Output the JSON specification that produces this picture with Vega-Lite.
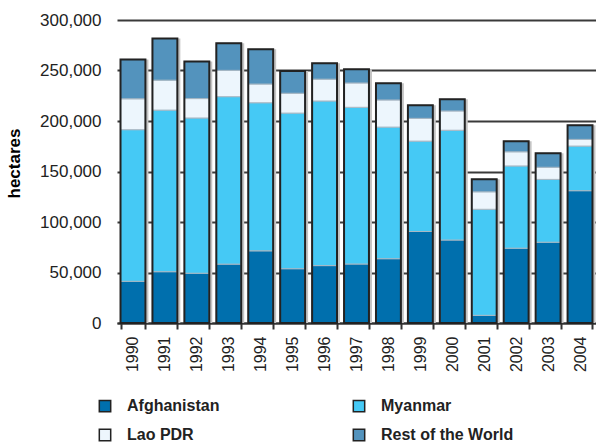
{
  "$schema": "https://vega.github.io/schema/vega-lite/v6.json",
  "autosize": {"type": "none"},
  "padding": {"left": 117, "top": 20, "right": 0, "bottom": 120},
  "width": 479,
  "height": 303,
  "background": "white",
  "data": {
    "values": [
      {"year": "1990", "country": "Afghanistan", "value": 41300},
      {"year": "1990", "country": "Myanmar", "value": 150100},
      {"year": "1990", "country": "Lao PDR", "value": 30580},
      {"year": "1990", "country": "Rest of the World", "value": 39020},
      {"year": "1991", "country": "Afghanistan", "value": 50800},
      {"year": "1991", "country": "Myanmar", "value": 160000},
      {"year": "1991", "country": "Lao PDR", "value": 29625},
      {"year": "1991", "country": "Rest of the World", "value": 41175},
      {"year": "1992", "country": "Afghanistan", "value": 49300},
      {"year": "1992", "country": "Myanmar", "value": 153700},
      {"year": "1992", "country": "Lao PDR", "value": 19190},
      {"year": "1992", "country": "Rest of the World", "value": 36800},
      {"year": "1993", "country": "Afghanistan", "value": 58300},
      {"year": "1993", "country": "Myanmar", "value": 165800},
      {"year": "1993", "country": "Lao PDR", "value": 26040},
      {"year": "1993", "country": "Rest of the World", "value": 26900},
      {"year": "1994", "country": "Afghanistan", "value": 71470},
      {"year": "1994", "country": "Myanmar", "value": 146600},
      {"year": "1994", "country": "Lao PDR", "value": 18520},
      {"year": "1994", "country": "Rest of the World", "value": 34400},
      {"year": "1995", "country": "Afghanistan", "value": 53759},
      {"year": "1995", "country": "Myanmar", "value": 154070},
      {"year": "1995", "country": "Lao PDR", "value": 19650},
      {"year": "1995", "country": "Rest of the World", "value": 22000},
      {"year": "1996", "country": "Afghanistan", "value": 56824},
      {"year": "1996", "country": "Myanmar", "value": 163000},
      {"year": "1996", "country": "Lao PDR", "value": 21601},
      {"year": "1996", "country": "Rest of the World", "value": 15700},
      {"year": "1997", "country": "Afghanistan", "value": 58416},
      {"year": "1997", "country": "Myanmar", "value": 155150},
      {"year": "1997", "country": "Lao PDR", "value": 24082},
      {"year": "1997", "country": "Rest of the World", "value": 13500},
      {"year": "1998", "country": "Afghanistan", "value": 63674},
      {"year": "1998", "country": "Myanmar", "value": 130300},
      {"year": "1998", "country": "Lao PDR", "value": 26837},
      {"year": "1998", "country": "Rest of the World", "value": 16500},
      {"year": "1999", "country": "Afghanistan", "value": 90583},
      {"year": "1999", "country": "Myanmar", "value": 89500},
      {"year": "1999", "country": "Lao PDR", "value": 22543},
      {"year": "1999", "country": "Rest of the World", "value": 12900},
      {"year": "2000", "country": "Afghanistan", "value": 82171},
      {"year": "2000", "country": "Myanmar", "value": 108700},
      {"year": "2000", "country": "Lao PDR", "value": 19052},
      {"year": "2000", "country": "Rest of the World", "value": 11600},
      {"year": "2001", "country": "Afghanistan", "value": 7606},
      {"year": "2001", "country": "Myanmar", "value": 105000},
      {"year": "2001", "country": "Lao PDR", "value": 17255},
      {"year": "2001", "country": "Rest of the World", "value": 12500},
      {"year": "2002", "country": "Afghanistan", "value": 74100},
      {"year": "2002", "country": "Myanmar", "value": 81400},
      {"year": "2002", "country": "Lao PDR", "value": 14000},
      {"year": "2002", "country": "Rest of the World", "value": 10400},
      {"year": "2003", "country": "Afghanistan", "value": 80000},
      {"year": "2003", "country": "Myanmar", "value": 62200},
      {"year": "2003", "country": "Lao PDR", "value": 12000},
      {"year": "2003", "country": "Rest of the World", "value": 13800},
      {"year": "2004", "country": "Afghanistan", "value": 131000},
      {"year": "2004", "country": "Myanmar", "value": 44200},
      {"year": "2004", "country": "Lao PDR", "value": 6600},
      {"year": "2004", "country": "Rest of the World", "value": 14000}
    ]
  },
  "encoding": {
    "x": {
      "field": "year",
      "type": "ordinal",
      "title": null,
      "scale": {"paddingInner": 0.22, "paddingOuter": 0.11}
    }
  },
  "layer": [
    {
      "mark": {"type": "bar", "fill": "#c4c4c4", "xOffset": 3},
      "encoding": {
        "y": {
          "aggregate": "sum",
          "field": "value",
          "type": "quantitative",
          "title": "hectares",
          "scale": {"domain": [0, 300000]},
          "axis": {"values": [0, 50000, 100000, 150000, 200000, 250000, 300000], "format": ",.0f"}
        }
      }
    },
    {
      "transform": [
        {"calculate": "indexof(['Afghanistan', 'Myanmar', 'Lao PDR', 'Rest of the World'], datum.country)", "as": "stackOrder"}
      ],
      "mark": {"type": "bar", "stroke": "#a8b8c4", "strokeWidth": 1},
      "encoding": {
        "y": {
          "field": "value",
          "type": "quantitative",
          "stack": "zero",
          "title": "hectares",
          "scale": {"domain": [0, 300000]},
          "axis": {"values": [0, 50000, 100000, 150000, 200000, 250000, 300000], "format": ",.0f"}
        },
        "order": {"field": "stackOrder", "type": "quantitative", "sort": "ascending"},
        "color": {
          "field": "country",
          "type": "nominal",
          "scale": {
            "domain": ["Afghanistan", "Myanmar", "Lao PDR", "Rest of the World"],
            "range": ["#006FAD", "#45C9F5", "#EDF6FD", "#5393BD"]
          },
          "legend": {"title": null, "orient": "none", "direction": "horizontal", "legendX": -20, "legendY": 378, "columns": 2}
        }
      }
    },
    {
      "mark": {"type": "bar", "fillOpacity": 0, "stroke": "#222222", "strokeWidth": 2},
      "encoding": {
        "y": {
          "aggregate": "sum",
          "field": "value",
          "type": "quantitative",
          "title": "hectares",
          "scale": {"domain": [0, 300000]},
          "axis": {"values": [0, 50000, 100000, 150000, 200000, 250000, 300000], "format": ",.0f"}
        }
      }
    }
  ],
  "config": {
    "view": {"stroke": null},
    "font": "Liberation Sans",
    "axisY": {
      "grid": true,
      "gridColor": "#3a3a3a",
      "gridWidth": 2,
      "domain": false,
      "ticks": false,
      "labelFont": "Liberation Sans",
      "labelFontSize": 17,
      "labelColor": "#222222",
      "labelPadding": 16,
      "titleFont": "Liberation Sans",
      "titleFontSize": 17,
      "titleFontWeight": "bold",
      "titleColor": "#000000",
      "titleX": -103,
      "titleY": 143,
      "titleBaseline": "middle",
      "titleAlign": "center",
      "titleAngle": -90
    },
    "axisX": {
      "grid": false,
      "domainColor": "#333333",
      "domainWidth": 2,
      "tickColor": "#333333",
      "tickWidth": 2,
      "tickSize": 6,
      "tickBand": "extent",
      "labelAngle": -90,
      "labelFont": "Liberation Sans",
      "labelFontSize": 16,
      "labelColor": "#222222",
      "labelPadding": 7
    },
    "legend": {
      "padding": 0,
      "columnPadding": 130,
      "rowPadding": 11,
      "symbolType": "square",
      "symbolSize": 130,
      "symbolStrokeColor": "#222222",
      "symbolStrokeWidth": 1.5,
      "labelFont": "Liberation Sans",
      "labelFontSize": 16,
      "labelFontWeight": "bold",
      "labelColor": "#222222",
      "labelOffset": 14,
      "labelLimit": 300
    }
  }
}
